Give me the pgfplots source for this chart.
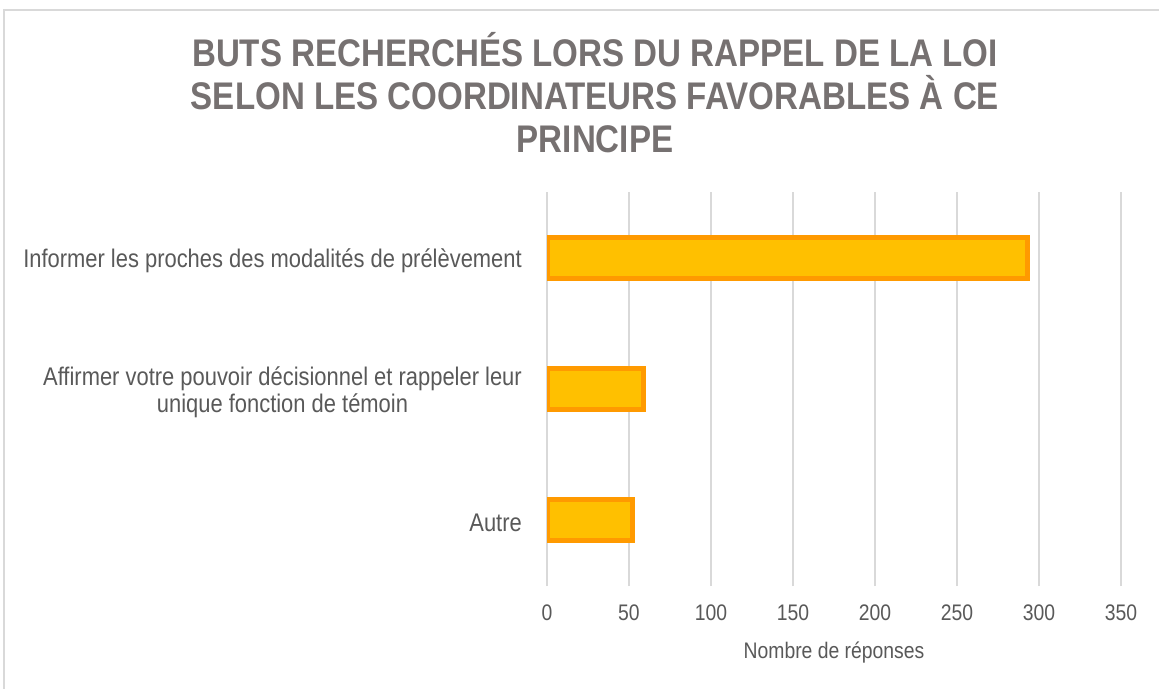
\documentclass[border=0pt]{standalone}
\usepackage{fontspec}
\setmainfont[FakeStretch=0.86]{Liberation Sans}
\usepackage{pgfplots}
\pgfplotsset{compat=1.18}
\definecolor{fillc}{HTML}{FFC000}
\definecolor{edgec}{HTML}{FF9A00}
\definecolor{gridc}{HTML}{D9D9D9}
\definecolor{txt}{HTML}{595959}
\definecolor{ttl}{HTML}{767171}
\begin{document}
\begin{tikzpicture}[x=1pt,y=1pt]
\useasboundingbox (0,0) rectangle (1159,-688);
\fill[white] (0,0) rectangle (1159,-688);
\draw[gridc, line width=2pt] (4,-700) -- (4,-10) -- (1170,-10);
\node[anchor=base, align=center, font=\fontsize{38.5}{43}\selectfont\bfseries, text=ttl] at (595,-152)
  {BUTS RECHERCHÉS LORS DU RAPPEL DE LA LOI\\SELON LES COORDINATEURS FAVORABLES À CE\\PRINCIPE};
\begin{axis}[
  at={(547pt,-586pt)}, anchor=south west,
  scale only axis, width=574pt, height=394pt,
  xmin=0, xmax=350, ymin=-0.5, ymax=2.5,
  xbar, bar width=41pt,
  xtick={0,50,...,350},
  ytick={0,1,2},
  yticklabels={Autre,{Affirmer votre pouvoir décisionnel et rappeler leur\\unique fonction de témoin},Informer les proches des modalités de prélèvement},
  axis line style={draw=none},
  major tick length=0pt,
  xmajorgrids,
  grid style={gridc, line width=1.5pt},
  /pgf/number format/assume math mode=true,
  xticklabel style={font=\fontsize{22.5}{26}\selectfont, text=txt, inner sep=0pt, anchor=north, yshift=-19pt},
  yticklabel style={font=\fontsize{25.5}{27}\selectfont, text=txt, align=center, inner sep=0pt, anchor=east, xshift=-25pt, yshift=-3pt},
  xlabel={Nombre de réponses},
  xlabel style={font=\fontsize{22.5}{26}\selectfont, text=txt, at={(axis description cs:0.5,0)}, anchor=north, inner sep=0pt, yshift=-56pt},
]
\addplot[fill=fillc, draw=edgec, line width=5pt] coordinates {(52,0) (59,1) (293,2)};
\end{axis}
\end{tikzpicture}
\end{document}
